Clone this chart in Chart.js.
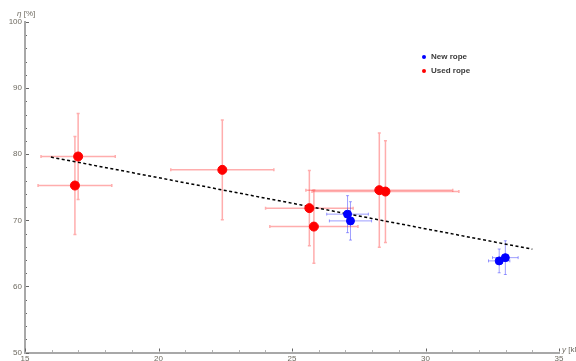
<!DOCTYPE html>
<html>
<head>
<meta charset="utf-8">
<script src="https://cdn.jsdelivr.net/npm/chart.js@4.4.1/dist/chart.umd.min.js"></script>
<style>
  html, body { margin: 0; padding: 0; background: #fff; }
  #wrap { width: 576px; height: 361px; position: relative; }
</style>
</head>
<body>
<div id="wrap"><canvas id="c" width="576" height="361"></canvas></div>
<script>
// Efficiency η [%] versus load y [kN], new and used rope, with error bars
const newX    = [27.08, 27.19, 32.76, 32.99];
const newY    = [70.93, 69.91, 63.86, 64.35];
const newXErr = [0.78, 0.79, 0.40, 0.48];
const newYErr = [2.8, 2.9, 1.8, 2.55];

const usedX    = [16.99, 16.87, 22.39, 25.65, 25.82, 28.27, 28.50];
const usedY    = [79.65, 75.26, 77.63, 71.84, 69.05, 74.56, 74.35];
const usedXErr = [1.39, 1.38, 1.93, 1.64, 1.65, 2.75, 2.75];
const usedYErr = [6.5, 7.4, 7.55, 5.7, 5.55, 8.65, 7.7];

// linear fit through all measurements
const fitX = [15.97, 34.0];
const fitY = [79.56, 65.63];

const xTicks = [15, 20, 25, 30, 35];
const yTicks = [50, 60, 70, 80, 90, 100];
const xMinorStep = 1;
const yMinorStep = 2;

const toPts = (xs, ys) => xs.map((x, i) => ({ x: x, y: ys[i] }));

const LABEL_COLOR = '#6e6a60';
const AXIS_COLOR = '#a8a8a8';
const TICK_COLOR = '#666';

const errorBars = {
  id: 'errorBars',
  beforeDatasetsDraw(chart) {
    const ctx = chart.ctx;
    const xs = chart.scales.x, ys = chart.scales.y;
    const sets = [
      { x: usedX, y: usedY, ex: usedXErr, ey: usedYErr, color: 'rgba(255,40,40,0.38)', w: 1.5 },
      { x: newX, y: newY, ex: newXErr, ey: newYErr, color: 'rgba(40,40,255,0.45)', w: 1 }
    ];
    ctx.save();
    sets.forEach(s => {
      ctx.strokeStyle = s.color;
      ctx.lineWidth = s.w;
      s.x.forEach((xv, i) => {
        const px = xs.getPixelForValue(xv), py = ys.getPixelForValue(s.y[i]);
        const x0 = xs.getPixelForValue(xv - s.ex[i]), x1 = xs.getPixelForValue(xv + s.ex[i]);
        const y0 = ys.getPixelForValue(s.y[i] - s.ey[i]), y1 = ys.getPixelForValue(s.y[i] + s.ey[i]);
        const c = 1.5;
        ctx.beginPath();
        ctx.moveTo(x0, py); ctx.lineTo(x1, py);
        ctx.moveTo(px, y0); ctx.lineTo(px, y1);
        ctx.moveTo(x0, py - c); ctx.lineTo(x0, py + c);
        ctx.moveTo(x1, py - c); ctx.lineTo(x1, py + c);
        ctx.moveTo(px - c, y0); ctx.lineTo(px + c, y0);
        ctx.moveTo(px - c, y1); ctx.lineTo(px + c, y1);
        ctx.stroke();
      });
    });
    ctx.restore();
  }
};

const axisDecor = {
  id: 'axisDecor',
  afterDraw(chart) {
    const ctx = chart.ctx;
    const xs = chart.scales.x, ys = chart.scales.y;
    const a = chart.chartArea;
    ctx.save();
    ctx.strokeStyle = TICK_COLOR;
    ctx.lineWidth = 1;
    ctx.beginPath();
    // x ticks (inward)
    for (let v = xs.min; v <= xs.max + 1e-9; v += xMinorStep) {
      const px = Math.round(xs.getPixelForValue(v)) + 0.5;
      const major = xTicks.includes(Math.round(v));
      ctx.moveTo(px, a.bottom - 1);
      ctx.lineTo(px, a.bottom - (major ? 4 : 2));
    }
    // y ticks (inward)
    for (let v = ys.min; v <= ys.max + 1e-9; v += yMinorStep) {
      const py = Math.round(ys.getPixelForValue(v)) + 0.5;
      const major = yTicks.includes(Math.round(v));
      ctx.moveTo(a.left + 1, py);
      ctx.lineTo(a.left + (major ? 4 : 2), py);
    }
    ctx.stroke();

    // axis titles
    ctx.fillStyle = LABEL_COLOR;
    ctx.textBaseline = 'middle';
    ctx.textAlign = 'left';
    ctx.font = 'italic 8px "Liberation Sans", Arial, sans-serif';
    ctx.fillText('η', 17, 14);
    let w = ctx.measureText('η').width;
    ctx.font = '8px "Liberation Sans", Arial, sans-serif';
    ctx.fillText(' [%]', 17 + w, 14);

    ctx.font = 'italic 8px "Liberation Sans", Arial, sans-serif';
    ctx.fillText('y', 562, 350);
    w = ctx.measureText('y').width;
    ctx.font = '8px "Liberation Sans", Arial, sans-serif';
    ctx.fillText(' [kN]', 562 + w, 350);

    // legend
    const items = [chart.data.datasets[0], chart.data.datasets[1]];
    ctx.font = 'bold 8px "Liberation Sans", Arial, sans-serif';
    items.forEach((ds, i) => {
      const y = 57 + i * 14;
      ctx.fillStyle = ds.backgroundColor;
      ctx.beginPath();
      ctx.arc(424, y, 2, 0, Math.PI * 2);
      ctx.fill();
      ctx.fillStyle = '#3a3a3a';
      ctx.fillText(ds.label, 431, y);
    });
    ctx.restore();
  }
};

new Chart(document.getElementById('c'), {
  type: 'scatter',
  data: {
    datasets: [
      {
        label: 'New rope',
        data: toPts(newX, newY),
        backgroundColor: '#0000ff',
        borderColor: '#0000ff',
        pointRadius: 4,
        pointHoverRadius: 4
      },
      {
        label: 'Used rope',
        data: toPts(usedX, usedY),
        backgroundColor: '#ff0000',
        borderColor: '#ff0000',
        pointRadius: 4.5,
        pointHoverRadius: 4.5
      },
      {
        label: 'Fit',
        type: 'line',
        data: toPts(fitX, fitY),
        borderColor: '#000',
        borderWidth: 1.5,
        borderDash: [3, 2.5],
        pointRadius: 0,
        fill: false
      }
    ]
  },
  options: {
    responsive: false,
    animation: false,
    events: [],
    layout: { padding: { top: 22, right: 17, left: 0, bottom: 0 } },
    plugins: { legend: { display: false }, tooltip: { enabled: false } },
    scales: {
      x: {
        type: 'linear',
        min: 15, max: 35,
        afterBuildTicks: s => { s.ticks = xTicks.map(v => ({ value: v })); },
        afterFit: s => { s.height = 8.5; },
        grid: { display: false, drawTicks: false },
        border: { display: true, color: AXIS_COLOR, width: 2 },
        ticks: { padding: 1, color: LABEL_COLOR, font: { size: 8, family: '"Liberation Sans", Arial, sans-serif' }, maxRotation: 0 }
      },
      y: {
        type: 'linear',
        min: 50, max: 100,
        afterBuildTicks: s => { s.ticks = yTicks.map(v => ({ value: v })); },
        afterFit: s => { s.width = 25; },
        grid: { display: false, drawTicks: false },
        border: { display: true, color: AXIS_COLOR, width: 2 },
        ticks: { padding: 3, color: LABEL_COLOR, font: { size: 8, family: '"Liberation Sans", Arial, sans-serif' } }
      }
    }
  },
  plugins: [errorBars, axisDecor]
});
</script>
</body>
</html>
